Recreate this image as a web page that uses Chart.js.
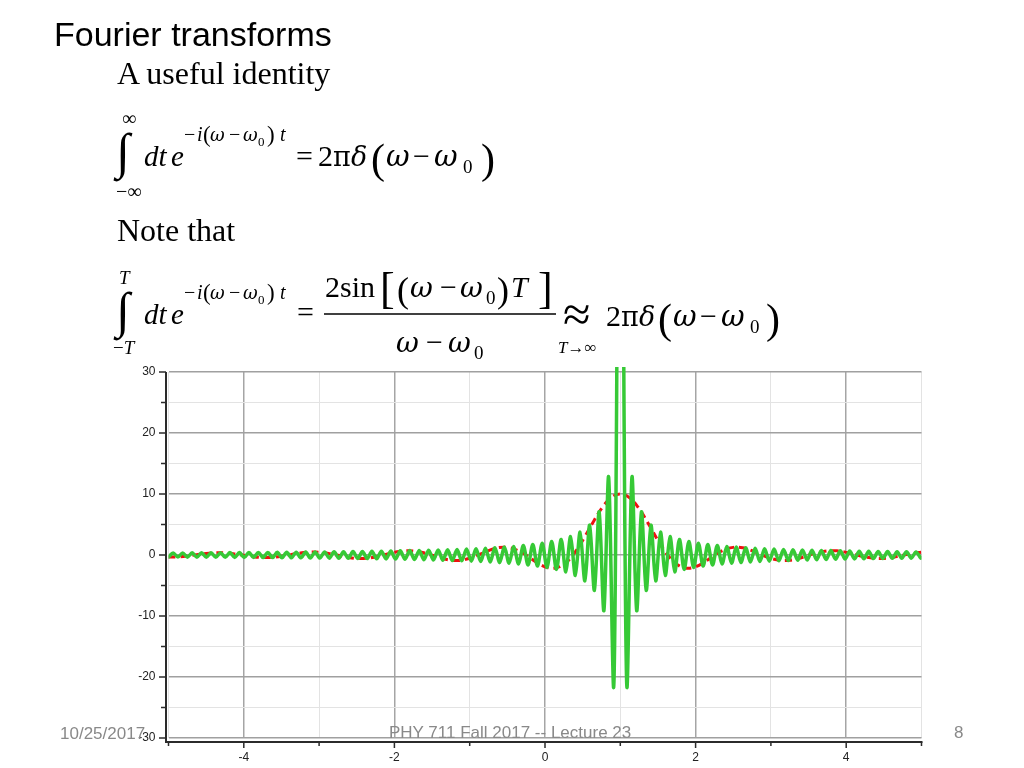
<!DOCTYPE html>
<html><head><meta charset="utf-8">
<script src="https://cdn.jsdelivr.net/npm/chart.js@4.4.1/dist/chart.umd.min.js"></script>
<style>
html,body{margin:0;padding:0;background:#fff;width:1024px;height:768px;overflow:hidden}
canvas{position:absolute;left:0;top:0}
svg{position:absolute;left:0;top:0;pointer-events:none}
.s{font-family:'Liberation Serif','Times New Roman',serif;fill:#000}
.g{font-family:'DejaVu Serif',serif;fill:#000}
.i{font-style:italic}
.h{font-family:'Liberation Sans',Arial,sans-serif;fill:#000}
.f{font-family:'Liberation Sans',Arial,sans-serif;fill:#898989;font-size:17px}
</style></head><body>
<canvas id="c" width="1024" height="768"></canvas>
<svg width="1024" height="768" xmlns="http://www.w3.org/2000/svg">
<text class="h" x="54" y="46" font-size="34">Fourier transforms</text>
<text class="s" x="117" y="84" font-size="32">A useful identity</text>
<!-- identity -->
<text class="s" x="122" y="125" font-size="20">∞</text>
<text class="s" x="116" y="168" font-size="50">∫</text>
<text class="s" x="116" y="198" font-size="20">−∞</text>
<text class="s i" x="144" y="166" font-size="29">dt</text>
<text class="s i" x="171" y="166" font-size="29">e</text>
<g font-size="20">
<text class="s" x="184" y="141">−</text>
<text class="s i" x="197" y="141">i</text>
<text class="s" x="203" y="142" font-size="23">(</text>
<text class="g i" x="210" y="141" font-size="18">ω</text>
<text class="s" x="229" y="141">−</text>
<text class="g i" x="243" y="141" font-size="18">ω</text>
<text class="s" x="258" y="146" font-size="13">0</text>
<text class="s" x="267" y="142" font-size="23">)</text>
<text class="s i" x="280" y="141">t</text>
</g>
<g font-size="30">
<text class="s" x="296" y="166">=</text>
<text class="s" x="318" y="166">2</text>
<text class="g" x="333" y="166" font-size="27">π</text>
<text class="g i" x="351" y="166" font-size="27">δ</text>
<text class="s" x="371" y="173" font-size="42">(</text>
<text class="g i" x="386" y="166" font-size="29">ω</text>
<text class="s" x="413" y="166">−</text>
<text class="g i" x="434" y="166" font-size="29">ω</text>
<text class="s" x="463" y="173" font-size="19">0</text>
<text class="s" x="481" y="173" font-size="42">)</text>
</g>
<text class="s" x="117" y="241" font-size="32">Note that</text>
<!-- finite T -->
<text class="s i" x="119" y="284" font-size="19">T</text>
<text class="s" x="116" y="327" font-size="50">∫</text>
<text class="s" x="113" y="354" font-size="19">−<tspan class="i">T</tspan></text>
<text class="s i" x="144" y="324" font-size="29">dt</text>
<text class="s i" x="171" y="324" font-size="29">e</text>
<g font-size="20">
<text class="s" x="184" y="299">−</text>
<text class="s i" x="197" y="299">i</text>
<text class="s" x="203" y="300" font-size="23">(</text>
<text class="g i" x="210" y="299" font-size="18">ω</text>
<text class="s" x="229" y="299">−</text>
<text class="g i" x="243" y="299" font-size="18">ω</text>
<text class="s" x="258" y="304" font-size="13">0</text>
<text class="s" x="267" y="300" font-size="23">)</text>
<text class="s i" x="280" y="299">t</text>
</g>
<g font-size="30">
<text class="s" x="297" y="322">=</text>
<text class="s" x="325" y="297">2sin</text>
<text class="s" x="380" y="303" font-size="44">[</text>
<text class="s" x="397" y="302" font-size="36">(</text>
<text class="g i" x="410" y="297" font-size="28">ω</text>
<text class="s" x="440" y="297">−</text>
<text class="g i" x="460" y="297" font-size="28">ω</text>
<text class="s" x="486" y="304" font-size="19">0</text>
<text class="s" x="497" y="302" font-size="36">)</text>
<text class="s i" x="511" y="297">T</text>
<text class="s" x="538" y="303" font-size="44">]</text>
<text class="g i" x="396" y="352" font-size="28">ω</text>
<text class="s" x="426" y="352">−</text>
<text class="g i" x="448" y="352" font-size="28">ω</text>
<text class="s" x="474" y="359" font-size="19">0</text>
<text class="s" x="563" y="331" font-size="50">≈</text>
<text class="s" x="558" y="353" font-size="17"><tspan class="i">T</tspan>→∞</text>
<text class="s" x="606" y="326">2</text>
<text class="g" x="621" y="326" font-size="27">π</text>
<text class="g i" x="639" y="326" font-size="27">δ</text>
<text class="s" x="658" y="333" font-size="42">(</text>
<text class="g i" x="673" y="326" font-size="29">ω</text>
<text class="s" x="700" y="326">−</text>
<text class="g i" x="721" y="326" font-size="29">ω</text>
<text class="s" x="750" y="333" font-size="19">0</text>
<text class="s" x="766" y="333" font-size="42">)</text>
</g>
<line x1="324" y1="314" x2="556" y2="314" stroke="#000" stroke-width="1.5"/>
<!-- footer -->
<text class="f" x="60" y="739">10/25/2017</text>
<text class="f" x="389" y="738">PHY 711  Fall 2017 -- Lecture 23</text>
<text class="f" x="954" y="738">8</text>
</svg>
<script>
// x grid of the dashed red curve (omega) and its values, T = 5
const redOmega = [-5, -4.875, -4.75, -4.625, -4.5, -4.375, -4.25, -4.125, -4, -3.875,
  -3.75, -3.625, -3.5, -3.375, -3.25, -3.125, -3, -2.875, -2.75, -2.625,
  -2.5, -2.375, -2.25, -2.125, -2, -1.875, -1.75, -1.625, -1.5, -1.375,
  -1.25, -1.125, -1, -0.875, -0.75, -0.625, -0.5, -0.375, -0.25, -0.125,
  0, 0.125, 0.25, 0.375, 0.5, 0.625, 0.75, 0.875, 1, 1.125,
  1.25, 1.375, 1.5, 1.625, 1.75, 1.875, 2, 2.125, 2.25, 2.375,
  2.5, 2.625, 2.75, 2.875, 3, 3.125, 3.25, 3.375, 3.5, 3.625,
  3.75, 3.875, 4, 4.125, 4.25, 4.375, 4.5, 4.625, 4.75, 4.875, 5];
const redValues = [-0.33, -0.30, -0.16, 0.05, 0.26, 0.37, 0.34, 0.18, -0.05, -0.28,
  -0.41, -0.39, -0.22, 0.05, 0.32, 0.47, 0.46, 0.26, -0.05, -0.36,
  -0.56, -0.55, -0.32, 0.05, 0.43, 0.68, 0.67, 0.40, -0.05, -0.54,
  -0.86, -0.88, -0.54, 0.05, 0.71, 1.19, 1.25, 0.81, -0.05, -1.09,
  -1.92, -2.16, -1.52, 0.05, 2.39, 5.09, 7.59, 9.36, 10, 9.36,
  7.59, 5.09, 2.39, 0.05, -1.52, -2.16, -1.92, -1.09, -0.05, 0.81,
  1.25, 1.19, 0.71, 0.05, -0.54, -0.88, -0.86, -0.54, -0.05, 0.40,
  0.67, 0.68, 0.43, 0.05, -0.32, -0.55, -0.56, -0.36, -0.05, 0.26, 0.46];

// green curve (T = 50): turning points
const greenOmega = [-5.000, -4.938, -4.875, -4.812, -4.749, -4.686, -4.623, -4.561, -4.498, -4.435,
  -4.372, -4.309, -4.247, -4.184, -4.121, -4.058, -3.995, -3.932, -3.870, -3.807,
  -3.744, -3.681, -3.618, -3.555, -3.493, -3.430, -3.367, -3.304, -3.241, -3.178,
  -3.116, -3.053, -2.990, -2.927, -2.864, -2.801, -2.738, -2.676, -2.613, -2.550,
  -2.487, -2.424, -2.362, -2.299, -2.236, -2.173, -2.110, -2.047, -1.985, -1.922,
  -1.859, -1.796, -1.733, -1.670, -1.608, -1.545, -1.482, -1.419, -1.356, -1.293,
  -1.231, -1.168, -1.105, -1.042, -0.979, -0.916, -0.854, -0.791, -0.728, -0.665,
  -0.602, -0.539, -0.477, -0.414, -0.351, -0.288, -0.225, -0.162, -0.100, -0.037,
  0.026, 0.089, 0.152, 0.215, 0.277, 0.340, 0.403, 0.466, 0.530, 0.593,
  0.656, 0.719, 0.782, 0.845, 0.910,
  0.94, 0.96, 0.98, 1.00, 1.02, 1.04, 1.06,
  1.090, 1.155, 1.218, 1.281, 1.344, 1.407, 1.470, 1.534, 1.597, 1.660,
  1.723, 1.785, 1.848, 1.911, 1.974, 2.037, 2.100, 2.162, 2.225, 2.288,
  2.351, 2.414, 2.477, 2.539, 2.602, 2.665, 2.728, 2.791, 2.854, 2.916,
  2.979, 3.042, 3.105, 3.168, 3.231, 3.293, 3.356, 3.419, 3.482, 3.545,
  3.608, 3.670, 3.733, 3.796, 3.859, 3.922, 3.985, 4.047, 4.110, 4.173,
  4.236, 4.299, 4.362, 4.424, 4.487, 4.550, 4.613, 4.676, 4.738, 4.801,
  4.864, 4.927, 4.990, 5.000];
const greenValues = [-0.33, 0.34, -0.34, 0.34, -0.35, 0.35, -0.36, 0.36, -0.36, 0.37,
  -0.37, 0.38, -0.38, 0.39, -0.39, 0.40, -0.40, 0.41, -0.41, 0.42,
  -0.42, 0.43, -0.43, 0.44, -0.45, 0.45, -0.46, 0.47, -0.47, 0.48,
  -0.49, 0.49, -0.50, 0.51, -0.52, 0.53, -0.53, 0.54, -0.55, 0.56,
  -0.57, 0.58, -0.59, 0.61, -0.62, 0.63, -0.64, 0.66, -0.67, 0.68,
  -0.70, 0.72, -0.73, 0.75, -0.77, 0.79, -0.81, 0.83, -0.85, 0.87,
  -0.90, 0.92, -0.95, 0.98, -1.01, 1.04, -1.08, 1.12, -1.16, 1.20,
  -1.25, 1.30, -1.35, 1.41, -1.48, 1.55, -1.63, 1.72, -1.82, 1.93,
  -2.05, 2.20, -2.36, 2.55, -2.77, 3.03, -3.35, 3.74, -4.25, 4.90,
  -5.80, 7.09, -9.13, 12.8, -21.7,
  4.70, 45.5, 84.1, 100, 84.1, 45.5, 4.70,
  -21.7, 12.8, -9.13, 7.09, -5.80, 4.90, -4.25, 3.74, -3.35, 3.03,
  -2.77, 2.55, -2.36, 2.20, -2.05, 1.93, -1.82, 1.72, -1.63, 1.55,
  -1.48, 1.41, -1.35, 1.30, -1.25, 1.20, -1.16, 1.12, -1.08, 1.04,
  -1.01, 0.98, -0.95, 0.92, -0.90, 0.87, -0.85, 0.83, -0.81, 0.79,
  -0.77, 0.75, -0.73, 0.72, -0.70, 0.68, -0.67, 0.66, -0.64, 0.63,
  -0.62, 0.61, -0.59, 0.58, -0.57, 0.56, -0.55, 0.54, -0.53, 0.53,
  -0.52, 0.51, -0.50, -0.44];

const xTicks = [-5, -4, -3, -2, -1, 0, 1, 2, 3, 4, 5];
const xTickLabels = ['', '-4', '', '-2', '', '0', '', '2', '', '4', ''];
const yTicks = [-30, -25, -20, -15, -10, -5, 0, 5, 10, 15, 20, 25, 30];
const yTickLabels = ['-30', '', '-20', '', '-10', '', '0', '', '10', '', '20', '', '30'];

const toPoints = (xs, ys) => xs.map((x, i) => ({x: x, y: ys[i]}));

const axesPlugin = {
  id: 'mapleAxes',
  afterDraw(chart) {
    const {ctx, chartArea: a, scales: {x, y}} = chart;
    const ax = a.left - 2.5, by = a.bottom + 4;
    ctx.save();
    ctx.strokeStyle = '#2b2b2b';
    ctx.lineWidth = 2;
    ctx.beginPath();
    ctx.moveTo(ax, a.top); ctx.lineTo(ax, by); ctx.lineTo(a.right + 1, by);
    ctx.stroke();
    ctx.lineWidth = 1.5;
    ctx.beginPath();
    yTicks.forEach(v => {
      const py = y.getPixelForValue(v);
      const len = (v % 10 === 0) ? 7 : 5;
      ctx.moveTo(ax - len, py); ctx.lineTo(ax, py);
    });
    xTicks.forEach(v => {
      const px = x.getPixelForValue(v);
      const len = (v % 2 === 0) ? 6 : 4;
      ctx.moveTo(px, by); ctx.lineTo(px, by + len);
    });
    ctx.stroke();
    ctx.restore();
  }
};

const tickFont = {family: "'Liberation Sans', Arial, sans-serif", size: 12};

new Chart(document.getElementById('c'), {
  type: 'line',
  data: {
    datasets: [
      {
        label: 'T = 5',
        data: toPoints(redOmega, redValues),
        borderColor: '#ee1111',
        borderWidth: 3,
        borderDash: [7, 5],
        tension: 0.4,
        pointRadius: 0,
        fill: false,
        order: 2
      },
      {
        label: 'T = 50',
        data: toPoints(greenOmega, greenValues),
        borderColor: '#36c936',
        borderWidth: 3.5,
        borderJoinStyle: 'round',
        borderCapStyle: 'round',
        tension: 0.3,
        pointRadius: 0,
        fill: false,
        clip: {left: 0, top: 5, right: 0, bottom: 0},
        order: 1
      }
    ]
  },
  options: {
    responsive: false,
    animation: false,
    layout: {padding: {left: 96, top: 372, right: 102.5, bottom: 0}},
    plugins: {legend: {display: false}, tooltip: {enabled: false}},
    scales: {
      x: {
        type: 'linear', min: -5, max: 5,
        afterBuildTicks: s => { s.ticks = xTicks.map(v => ({value: v})); },
        afterFit: s => { s.height = 30; },
        border: {display: false},
        grid: {
          drawTicks: false,
          color: c => (c.tick && c.tick.value % 2 === 0) ? '#a5a5a5' : '#e3e3e3',
          lineWidth: c => (c.tick && c.tick.value % 2 === 0) ? 1.5 : 1
        },
        ticks: {
          autoSkip: false, maxRotation: 0, padding: 12, color: '#222', font: tickFont,
          callback: (v, i) => xTickLabels[i]
        }
      },
      y: {
        type: 'linear', min: -30, max: 30,
        afterBuildTicks: s => { s.ticks = yTicks.map(v => ({value: v})); },
        afterFit: s => { s.width = 72.5; },
        border: {display: false},
        grid: {
          drawTicks: false,
          color: c => (c.tick && c.tick.value % 10 === 0) ? '#a0a0a0' : '#e3e3e3',
          lineWidth: c => (c.tick && c.tick.value % 10 === 0) ? 1.5 : 1
        },
        ticks: {
          autoSkip: false, padding: 13, color: '#222', font: tickFont,
          callback: (v, i) => yTickLabels[i]
        }
      }
    }
  },
  plugins: [axesPlugin]
});
</script>
</body></html>
